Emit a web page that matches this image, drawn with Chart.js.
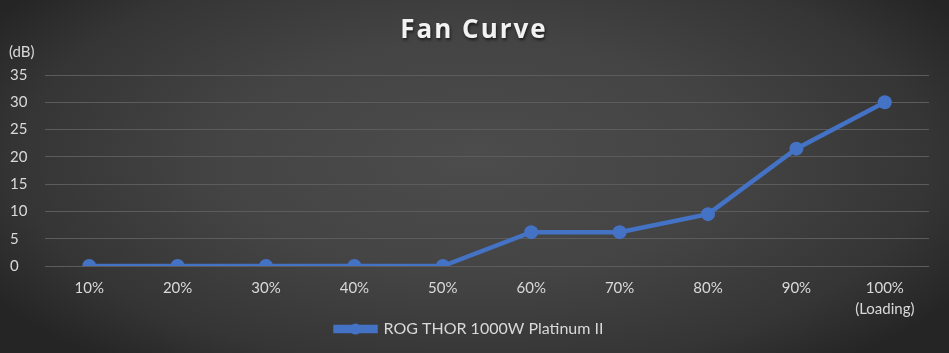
<!DOCTYPE html>
<html><head><meta charset="utf-8">
<script src="https://cdn.jsdelivr.net/npm/chart.js@4/dist/chart.umd.min.js"></script>
<style>
html,body{margin:0;padding:0;}
#wrap{width:949px;height:353px;background:radial-gradient(ellipse 60% 75% at 50% 45%, #4c4c4c 0%, #444 45%, #353535 80%, #252525 100%);}
</style></head>
<body><div id="wrap"><canvas id="c" width="949" height="353"></canvas></div>
<script>
const categories = ['10%','20%','30%','40%','50%','60%','70%','80%','90%',['100%','(Loading)']];
const seriesName = 'ROG THOR 1000W Platinum II';
const noiseDb = [0,0,0,0,0,6.2,6.2,9.5,21.5,30];
const yTicks = [0,5,10,15,20,25,30,35];
const titleText = 'Fan Curve';
const yUnit = '(dB)';

const blue = '#4472C4';
const txt = '#d9d9d9';

const extras = {
  id:'extras',
  afterDraw(chart){
    const ctx = chart.ctx;
    ctx.save();
    ctx.fillStyle = '#f2f2f2';
    ctx.font = 'bold 26px "Open Sans"';
    ctx.letterSpacing = '2px';
    ctx.textAlign = 'center';
    ctx.textBaseline = 'middle';
    ctx.shadowColor = 'rgba(0,0,0,0.6)';
    ctx.shadowOffsetX = 1; ctx.shadowOffsetY = 2; ctx.shadowBlur = 3;
    ctx.fillText(titleText, 474, 31);
    ctx.restore();
    ctx.save();
    ctx.fillStyle = txt;
    ctx.font = '15px Lato';
    ctx.textAlign = 'left';
    ctx.textBaseline = 'middle';
    ctx.fillText(yUnit, 9, 52);
    ctx.restore();
    const lg = chart.legend;
    if (lg && lg.legendHitBoxes && lg.legendHitBoxes.length){
      const hb = lg.legendHitBoxes[0];
      const bw = lg.options.labels.boxWidth;
      ctx.save();
      ctx.fillStyle = blue;
      ctx.beginPath();
      ctx.arc(hb.left + bw/2, hb.top + hb.height/2, 5.5, 0, Math.PI*2);
      ctx.fill();
      ctx.restore();
    }
  }
};

new Chart(document.getElementById('c'), {
  type:'line',
  data:{labels:categories, datasets:[{
    label:seriesName, data:noiseDb, borderColor:blue, backgroundColor:blue,
    borderWidth:4.5, pointRadius:7, pointHoverRadius:7, pointBackgroundColor:blue, pointBorderWidth:0, tension:0
  }]},
  options:{
    responsive:false, animation:false,
    layout:{padding:{top:75, right:20, bottom:6, left:10}},
    plugins:{
      title:{display:false},
      tooltip:{enabled:false},
      legend:{position:'bottom', labels:{color:txt, font:{family:'Lato', size:16, lineHeight:1.1}, boxWidth:40, boxHeight:4, padding:0}}
    },
    scales:{
      x:{offset:true, grid:{display:false, drawTicks:false}, border:{display:false},
         ticks:{color:txt, font:{family:'Lato', size:15, lineHeight:1.45}, padding:11, maxRotation:0, autoSkip:false},
         afterFit(ax){ax.height = 55;}},
      y:{min:0, max:35, afterBuildTicks(ax){ax.ticks = yTicks.map(v=>({value:v}));},
         grid:{color:'#5c5c5c', lineWidth:1, drawTicks:false}, border:{display:false},
         ticks:{color:txt, font:{family:'Lato', size:15}, crossAlign:'far', padding:8},
         afterFit(ax){ax.width = 35;}}
    }
  },
  plugins:[extras]
});
</script></body></html>
